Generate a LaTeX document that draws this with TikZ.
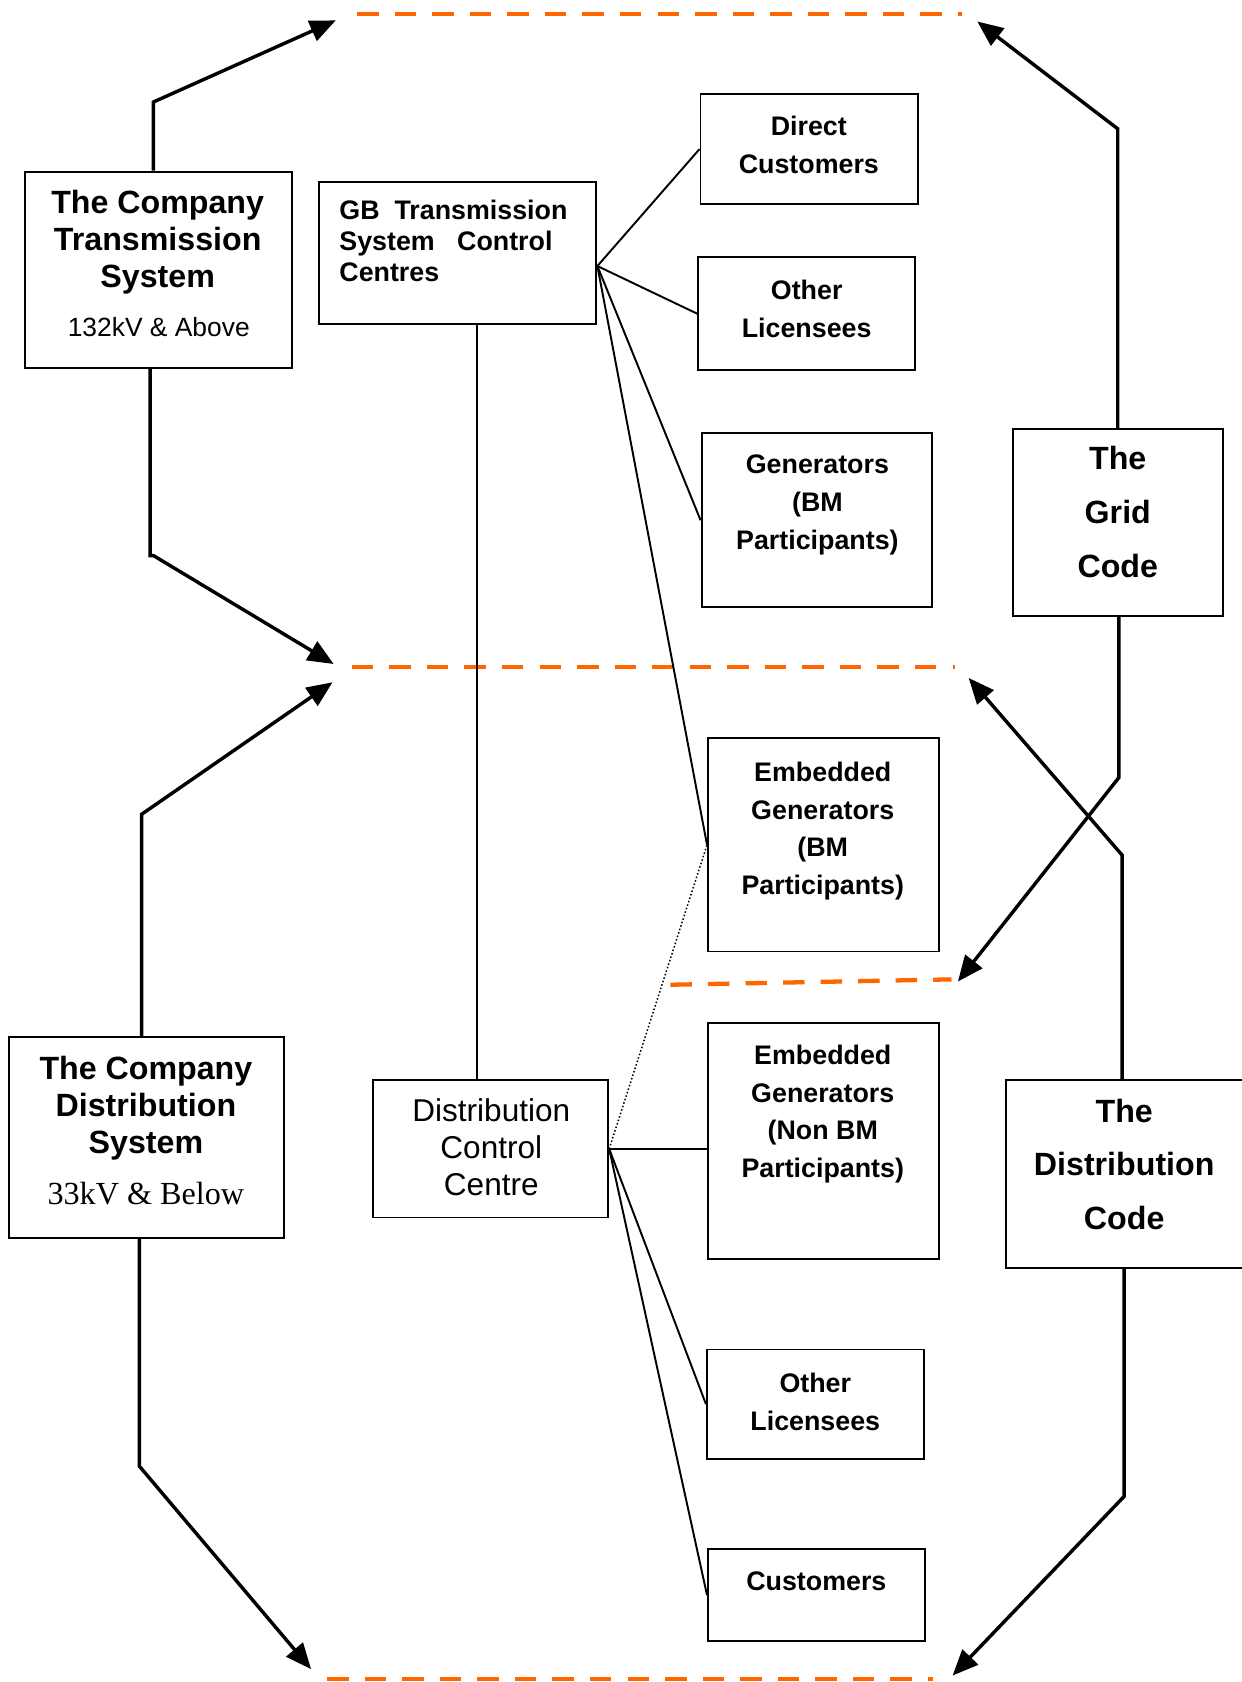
\documentclass[tikz,border=0pt]{standalone}
\usepackage{fontspec}
\setmainfont{Liberation Sans}
\newfontfamily\kvserif{Liberation Serif}
\usepackage{xcolor}
\usetikzlibrary{arrows.meta, calc, positioning}
\definecolor{bordercol}{RGB}{255,102,0}

\begin{document}
\begin{tikzpicture}[
    x=0.5pt, y=-0.5pt,
    >={Triangle[length=12pt, width=10pt]},
    box/.style={rectangle, draw, line width=0.9pt, inner sep=0pt},
    bigtxt/.style={anchor=north, inner sep=0pt, align=center, font=\fontsize{15}{17.25}\selectfont\bfseries},
    codetxt/.style={anchor=north, inner sep=0pt, align=center, font=\fontsize{15}{25}\selectfont\bfseries},
    leaftxt/.style={anchor=north, inner sep=0pt, align=center, font=\fontsize{12.5}{17.5}\selectfont\bfseries},
    link/.style={line width=0.9pt},
    codearrow/.style={->, line width=1.6pt},
    boundary/.style={draw=bordercol, line width=2pt, dash pattern=on 10pt off 7.5pt}
]
\useasboundingbox (0,0) rectangle (1157,1568);

% Systems
\node[box, minimum width=124.5pt, minimum height=91.5pt] (cotrans) at (147.5,251.5) {};
\node[bigtxt] (cotrans_txt) at (147,177) {The Company\\Transmission\\System};
\node[anchor=north, inner sep=0pt, font=\fontsize{12.3}{14}\selectfont] (cotrans_kv) at (148,295) {132kV \& Above};

\node[box, minimum width=128.5pt, minimum height=93.5pt] (codist) at (136.5,1060.5) {};
\node[bigtxt] (codist_txt) at (136,984) {The Company\\Distribution\\System};
\node[anchor=north, inner sep=0pt, font=\fontsize{15}{17}\selectfont\kvserif] (codist_kv) at (136,1102) {33kV \& Below};

% Control centres
\node[box, minimum width=129.5pt, minimum height=66pt] (gbtscc) at (426.5,236) {};
\node[anchor=north west, inner sep=0pt, align=left, font=\fontsize{12.5}{14.5}\selectfont\bfseries] (gbtscc_txt) at (316,186) {GB\ \ Transmission\\System\ \ \ Control\\Centres};

\node[box, minimum width=109.5pt, minimum height=64pt] (dcc) at (457.5,1071) {};
\node[anchor=north, inner sep=0pt, align=center, font=\fontsize{14.7}{17.25}\selectfont] (dcc_txt) at (458,1023.5) {Distribution\\Control\\Centre};

% Users of the transmission system
\node[box, minimum width=101.5pt, minimum height=51pt] (dcust) at (754.5,139) {};
\node[leaftxt] (dcust_txt) at (754,108) {Direct\\Customers};
\node[box, minimum width=101pt, minimum height=52.5pt] (olic1) at (752,292.5) {};
\node[leaftxt] (olic1_txt) at (752,261) {Other\\Licensees};
\node[box, minimum width=107.5pt, minimum height=81pt] (gen) at (761.5,485) {};
\node[leaftxt] (gen_txt) at (762,424) {Generators\\(BM\\Participants)};
\node[box, minimum width=107.5pt, minimum height=99.5pt] (embbm) at (767.5,787.5) {};
\node[leaftxt] (embbm_txt) at (767,710) {Embedded\\Generators\\(BM\\Participants)};

% Users of the distribution system
\node[box, minimum width=107.5pt, minimum height=110pt] (embnbm) at (767.5,1064) {};
\node[leaftxt] (embnbm_txt) at (767,974) {Embedded\\Generators\\(Non BM\\Participants)};
\node[box, minimum width=101pt, minimum height=51pt] (olic2) at (760,1309) {};
\node[leaftxt] (olic2_txt) at (760,1280) {Other\\Licensees};
\node[box, minimum width=101pt, minimum height=43pt] (cust) at (761,1487) {};
\node[leaftxt] (cust_txt) at (761,1465) {Customers};

% Codes
\node[box, minimum width=98pt, minimum height=87pt] (gridcode) at (1042,487) {};
\node[codetxt] (gridcode_txt) at (1042,416) {The\\Grid\\Code};
\node[box, minimum width=111pt, minimum height=87.5pt] (distcode) at (1049,1094.5) {};
\node[codetxt] (distcode_txt) at (1048,1024) {The\\Distribution\\Code};

% Code boundaries
\coordinate (top_l) at (333,13);
\coordinate (top_r) at (897,13);
\coordinate (mid_l) at (328,622);
\coordinate (mid_r) at (890,622);
\coordinate (low_l) at (625,918);
\coordinate (low_r) at (887,913);
\coordinate (bot_l) at (305,1565);
\coordinate (bot_r) at (870,1565);
\draw[boundary] (top_l) -- (top_r);
\draw[boundary] (mid_l) -- (mid_r);
\draw[boundary] (low_l) -- (low_r);
\draw[boundary] (bot_l) -- (bot_r);

% Arrow tips
\coordinate (tip_tl) at (313,19);
\coordinate (tip_tr) at (911,20);
\coordinate (tip_ml1) at (311,619);
\coordinate (tip_ml2) at (310,636);
\coordinate (tip_mr) at (903,632);
\coordinate (tip_low) at (893,915);
\coordinate (tip_bl) at (290,1556);
\coordinate (tip_br) at (888,1562);

% Thin links
\draw[link] ([xshift=9.25pt]gbtscc.south) -- ([xshift=-6.25pt]dcc.north);
\draw[link] ([yshift=-6pt]gbtscc.east) -- (dcust.west);
\draw[link] ([yshift=-6pt]gbtscc.east) -- (olic1.west);
\draw[link] ([yshift=-6pt]gbtscc.east) -- (gen.west);
\draw[link] ([yshift=-6pt]gbtscc.east) -- (embbm.west);
\draw[densely dotted, line width=0.7pt] (dcc.east) -- (embbm.west);
\draw[link] (dcc.east) -- (dcc.east -| embnbm.west);
\draw[link] (dcc.east) -- (olic2.west);
\draw[link] (dcc.east) -- (cust.west);

% Code arrows
\draw[codearrow] ([xshift=-2.25pt]cotrans.north) -- ++(0,-64) -- (tip_tl);
\draw[codearrow] ([xshift=-3.75pt]cotrans.south) -- ++(0,174) -- ++(3,0) -- (tip_ml1);
\draw[codearrow] ([xshift=-2.25pt]codist.north) -- ++(0,-207) -- (tip_ml2);
\draw[codearrow] ([xshift=-3.25pt]codist.south) -- ++(0,212) -- (tip_bl);
\draw[codearrow] (gridcode.north) -- ++(0,-279) -- (tip_tr);
\draw[codearrow] ([xshift=0.5pt]gridcode.south) -- ++(0,150) -- (tip_low);
\draw[codearrow] ([xshift=-1.5pt]distcode.north) -- ++(0,-209) -- (tip_mr);
\draw[codearrow] ([xshift=-0.5pt]distcode.south) -- ++(0,212) -- (tip_br);

\end{tikzpicture}
\end{document}
